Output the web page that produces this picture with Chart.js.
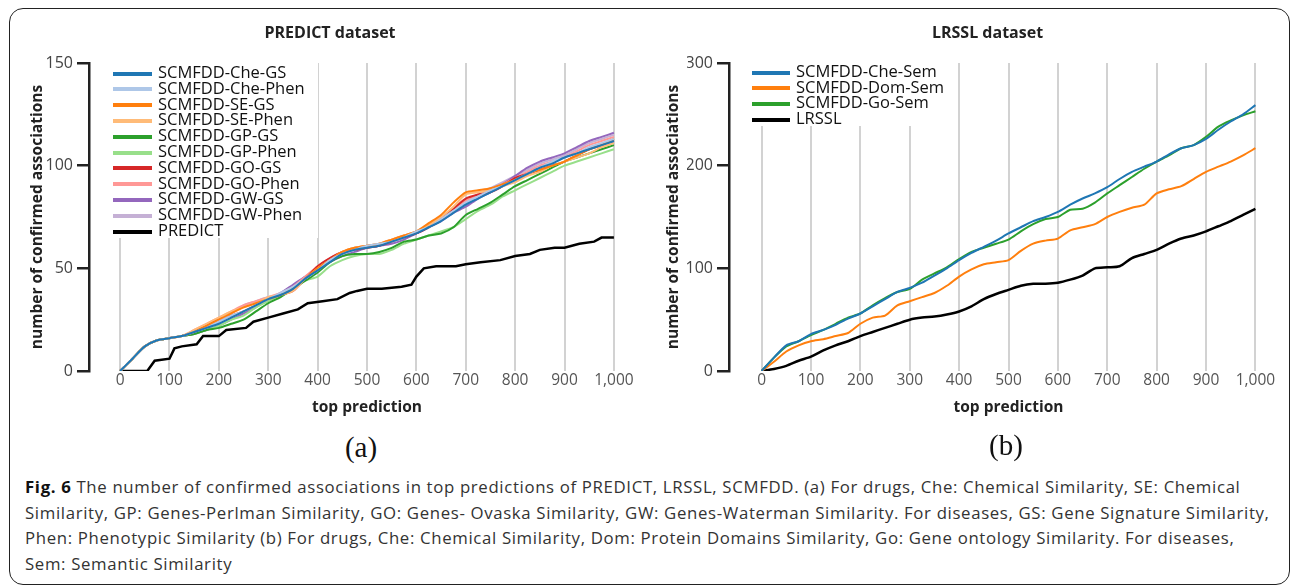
<!DOCTYPE html>
<html>
<head>
<meta charset="utf-8">
<script src="https://cdn.jsdelivr.net/npm/chart.js@4.4.1/dist/chart.umd.min.js"></script>
<style>
body{margin:0;background:#fff;width:1292px;height:588px;position:relative;overflow:hidden;font-family:'Open Sans',sans-serif;}
#frame{position:absolute;left:9px;top:8px;width:1281px;height:577px;border:1.5px solid #222;border-radius:14px;box-sizing:border-box;}
canvas{position:absolute;top:0;}
#cvA{left:0;}
#cvB{left:641px;}
.legend{position:absolute;background:#fff;font-size:16.5px;color:#111;padding-top:4px;}
.legend div{height:15.8px;line-height:15.8px;white-space:nowrap;}
.legend span{display:inline-block;height:4px;vertical-align:middle;margin-right:6px;}
#legA{left:105px;top:60px;padding-left:8px;width:205px;}
#legA span{width:39px;}
#legB{left:745px;top:60px;padding-left:7px;width:205px;padding-top:3px;}
#legB div{height:15.7px;line-height:15.7px;}
#legB span{width:38px;}
.panel{position:absolute;width:100px;text-align:center;font-family:'Liberation Serif',serif;font-size:29px;line-height:32px;color:#111;}
#caption{position:absolute;left:25px;top:474px;font-size:16.8px;color:#333;line-height:25.5px;white-space:nowrap;}
#caption b{color:#111;}
</style>
</head>
<body>
<div id="frame"></div>
<canvas id="cvA" width="660" height="430"></canvas>
<canvas id="cvB" width="651" height="430"></canvas>
<div id="legA" class="legend"></div>
<div id="legB" class="legend"></div>
<div class="panel" style="left:311px;top:431px;">(a)</div>
<div class="panel" style="left:956px;top:429px;">(b)</div>
<div id="caption">
<div id="capl1"><b>Fig. 6</b> The number of confirmed associations in top predictions of PREDICT, LRSSL, SCMFDD. (a) For drugs, Che: Chemical Similarity, SE: Chemical</div>
<div>Similarity, GP: Genes-Perlman Similarity, GO: Genes- Ovaska Similarity, GW: Genes-Waterman Similarity. For diseases, GS: Gene Signature Similarity,</div>
<div>Phen: Phenotypic Similarity (b) For drugs, Che: Chemical Similarity, Dom: Protein Domains Similarity, Go: Gene ontology Similarity. For diseases,</div>
<div>Sem: Semantic Similarity</div>
</div>
<script>
// x positions of the sampled points (top prediction)
const stepX = [0,25,50,75,100,125,150,175,200,225,250,275,300,325,350,375,400,425,450,475,500,525,550,575,600,625,650,675,700,725,750,775,800,825,850,875,900,925,950,975,1000];
const ticksX = [0,100,200,300,400,500,600,700,800,900,1000];
const ticksYA = [0,50,100,150];
const ticksYB = [0,100,200,300];

// (a) PREDICT dataset
const namesA = ["SCMFDD-Che-GS","SCMFDD-Che-Phen","SCMFDD-SE-GS","SCMFDD-SE-Phen","SCMFDD-GP-GS","SCMFDD-GP-Phen","SCMFDD-GO-GS","SCMFDD-GO-Phen","SCMFDD-GW-GS","SCMFDD-GW-Phen"];
const colorsA = ["#1f77b4","#aec7e8","#ff7f0e","#ffbb78","#2ca02c","#98df8a","#d62728","#ff9896","#9467bd","#c5b0d5"];
const cheGS   = [0,6,12,15,16,17,19,21,23,26,29,32,35,37,40,45,49,53,57,59,60,61,63,65,67,70,73,77,81,84,87,90,93,96,99,101,104,106,108,110,112];
const chePhen = [0,6,12,15,16,17,19,21,24,27,29,32,35,38,41,45,49,54,57,59,61,62,63,65,68,70,74,78,82,85,88,90,93,96,99,102,104,106,109,111,113];
const seGS    = [0,6,12,15,16,17,19,22,25,28,31,33,35,37,40,45,50,54,58,60,61,62,64,66,68,72,76,82,87,88,89,91,93,96,98,100,102,105,108,110,113];
const sePhen  = [0,6,12,15,16,17,20,23,26,29,31,33,36,37,39,45,50,54,58,60,61,62,64,66,68,71,75,80,86,87,88,90,92,95,97,100,102,104,106,109,111];
const gpGS    = [0,6,12,15,16,17,18,20,21,23,25,29,33,36,40,44,48,53,56,57,57,58,60,63,64,66,67,70,76,79,82,86,90,93,96,99,102,104,106,108,110];
const gpPhen  = [0,6,12,15,16,17,18,20,22,25,27,31,34,37,40,44,46,51,54,56,57,57,59,62,64,66,68,70,74,78,81,85,88,91,94,97,100,102,104,106,108];
const goGS    = [0,6,12,15,16,17,19,22,25,27,29,32,35,37,39,45,51,55,58,59,60,61,63,65,67,70,74,79,84,86,87,90,94,96,98,100,102,105,108,110,112];
const goPhen  = [0,6,12,15,16,17,20,23,26,29,32,34,36,38,41,46,51,55,58,60,61,62,64,66,68,71,75,79,83,86,88,91,94,97,100,102,104,107,110,112,114];
const gwGS    = [0,6,12,15,16,17,18,20,22,25,28,31,35,38,42,46,49,53,56,58,60,61,62,64,67,70,73,77,80,84,87,91,95,99,102,104,106,109,112,114,116];
const gwPhen  = [0,6,12,15,16,17,19,22,24,28,32,34,36,37,40,45,49,54,57,59,60,61,63,65,67,70,73,78,82,86,89,92,95,98,101,103,105,108,111,113,115];
const seriesA = [cheGS,chePhen,seGS,sePhen,gpGS,gpPhen,goGS,goPhen,gwGS,gwPhen];
const predictX = [0,55,70,100,110,125,155,168,200,215,255,270,300,330,360,380,410,440,465,480,500,530,570,590,600,615,640,680,700,730,770,800,830,850,880,900,930,960,975,1000];
const predictY = [0,0,5,6,11,12,13,17,17,20,21,24,26,28,30,33,34,35,38,39,40,40,41,42,46,50,51,51,52,53,54,56,57,59,60,60,62,63,65,65];

// (b) LRSSL dataset
const namesB = ["SCMFDD-Che-Sem","SCMFDD-Dom-Sem","SCMFDD-Go-Sem","LRSSL"];
const colorsB = ["#1f77b4","#ff7f0e","#2ca02c","#000000"];
const cheSem = [0,13,25,29,36,40,45,51,56,63,70,77,81,86,93,100,108,115,121,127,134,140,146,150,155,162,168,173,179,187,194,199,204,211,217,220,226,235,243,250,259];
const domSem = [0,9,19,25,29,31,34,37,46,52,54,64,68,72,76,83,92,99,104,106,108,117,124,127,129,137,140,143,150,155,159,162,173,177,180,187,194,199,204,210,217];
const goSem  = [0,13,24,29,35,40,46,52,56,64,71,77,80,89,95,101,109,116,120,124,128,136,143,148,150,157,158,164,173,181,189,197,204,210,217,220,228,238,244,249,253];
const lrssl  = [0,2,5,10,14,20,25,29,34,38,42,46,50,52,53,55,58,63,70,75,79,83,85,85,86,89,93,100,101,102,110,114,118,124,129,132,136,141,146,152,158];
const seriesB = [cheSem,domSem,goSem,lrssl];

Chart.defaults.font.family = "'Open Sans', sans-serif";

function pts(xs, ys){
    return xs.map((x, i) => ({x: x, y: ys[i]}));
}

function buildChart(canvasId, datasets, o){
    return new Chart(document.getElementById(canvasId), {
        type: 'line',
        data: {datasets: datasets},
        options: {
            responsive: false,
            animation: false,
            layout: {padding: {left: o.padLeft, right: o.padRight, top: 0, bottom: 0}},
            plugins: {
                legend: {display: false},
                tooltip: {enabled: false},
                title: {display: true, text: o.title, color: '#222',
                        font: {size: 16, weight: 'bold'}, padding: {top: 23.4, bottom: 20.4}}
            },
            scales: {
                x: {
                    type: 'linear', min: o.xMin, max: 1000 - o.xMin,
                    afterBuildTicks: a => { a.ticks = ticksX.map(v => ({value: v})); },
                    afterFit: s => { s.height = 59; },
                    grid: {color: '#d2d2d2', lineWidth: 2, drawTicks: false},
                    border: {display: false},
                    ticks: {padding: 0, color: '#555', font: {size: 15.5}, autoSkip: false, maxRotation: 0},
                    title: {display: true, text: 'top prediction', color: '#222',
                            font: {size: 15.5, weight: 'bold'}, padding: {top: 0, bottom: 12.7}}
                },
                y: {
                    min: 0, max: o.yMax,
                    afterBuildTicks: a => { a.ticks = o.yTicks.map(v => ({value: v})); },
                    afterFit: s => { s.width = o.yWidth; },
                    grid: {drawOnChartArea: false, color: '#222', lineWidth: 2.5, tickLength: 12},
                    border: {color: '#222', width: 2.5},
                    ticks: {padding: 4, color: '#444', font: {size: 16}},
                    title: {display: true, text: 'number of confirmed associations', color: '#222',
                            font: {size: 15.5, weight: 'bold'}, padding: {top: o.yTitlePad, bottom: 0}}
                }
            }
        }
    });
}

// PANEL (a)
let dsA = seriesA.map((ys, i) => ({
    label: namesA[i], data: pts(stepX, ys), borderColor: colorsA[i],
    borderWidth: 2, pointRadius: 0, tension: 0.25
}));
dsA.push({label: 'PREDICT', data: pts(predictX, predictY), borderColor: '#000',
          borderWidth: 2.5, pointRadius: 0, tension: 0});
buildChart('cvA', dsA, {title: 'PREDICT dataset', padLeft: 15, padRight: 15, xMin: -63,
                        yMax: 150, yTicks: ticksYA, yWidth: 74, yTitlePad: 13.7});

// PANEL (b)
let dsB = seriesB.map((ys, i) => ({
    label: namesB[i], data: pts(stepX, ys), borderColor: colorsB[i],
    borderWidth: i == 3 ? 2.5 : 2, pointRadius: 0, tension: 0.25
}));
buildChart('cvB', dsB, {title: 'LRSSL dataset', padLeft: 46, padRight: 4, xMin: -66,
                        yMax: 300, yTicks: ticksYB, yWidth: 42, yTitlePad: -22.3});

// legends
function fillLegend(id, names, colors){
    let html = "";
    names.forEach((n, i) => {
        html += `<div><span style="background:${colors[i]}"></span>${n}</div>`;
    });
    document.getElementById(id).innerHTML = html;
}
fillLegend('legA', namesA.concat(['PREDICT']), colorsA.concat(['#000']));
fillLegend('legB', namesB, colorsB);

// stretch caption so the first line ends where it does in the figure
let l1 = document.getElementById('capl1');
let w = l1.getBoundingClientRect().width;
document.getElementById('caption').style.letterSpacing = ((1242 - w) / l1.textContent.length) + 'px';
</script>
</body>
</html>
